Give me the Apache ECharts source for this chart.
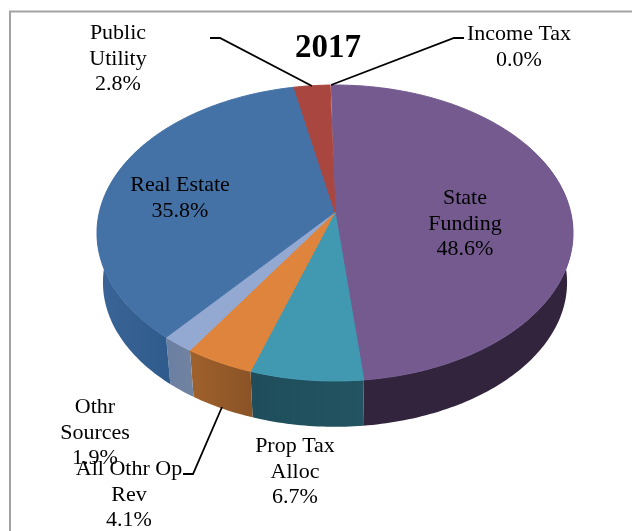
<!DOCTYPE html>
<html>
<head>
<meta charset="utf-8">
<style>html,body{margin:0;padding:0;background:#fff}#chart{width:632px;height:531px}</style>
<script src="https://cdn.jsdelivr.net/npm/echarts@6/dist/echarts.min.js"></script>
</head>
<body>
<div id="chart"></div>
<script>
// Revenue shares for 2017, clockwise from the top of the disc
const categories = ['State\nFunding', 'Prop Tax\nAlloc', 'All Othr Op\nRev', 'Othr\nSources', 'Real Estate', 'Public\nUtility', 'Income Tax'];
const shares = [48.6, 6.7, 4.1, 1.9, 35.8, 2.8, 0.0];
const faceColors = ['#745a8f', '#4198b1', '#de843c', '#93a9d2', '#4572a6', '#a9463f', '#8fa84a'];
const wallColors = [['#33243d', '#33243d'], ['#1f4d5b', '#235461'], ['#a0612c', '#8a5326'], ['#6b7fa3', '#71839f'], ['#3b6597', '#2f5a8c'], ['#7c322e', '#7c322e'], ['#66783a', '#66783a']];
const chartTitle = '2017';

// Disc projection: a tilted circle seen in perspective
const disc = { cx: 335, apexY: 212, rx: 235.6, ry: 145, persp: 0.142, startDeg: -1 };
const base = { scale: 0.975, apexY: 262 };
// Only the front part of the rim can be seen, the rest lies behind the top face
const rimRange = [60, 300];

// Label block centres and leader lines, in the same order as the categories
const labelCentres = [[465, 224], [295, 472], [129, 495], [95, 433], [180, 198], [118, 59], [519, 47]];
const leaders = [
  [[210, 38], [220, 38], [312, 86]],
  [[464, 38], [454, 38], [331, 85]],
  [[183, 474], [193, 474], [222, 407]]
];

function project(deg, scale, apexY) {
  const a = deg * Math.PI / 180;
  const u = Math.sin(a), v = Math.cos(a);
  const d = 1 + disc.persp * v;
  return [disc.cx + scale * disc.rx * u / d, apexY - scale * disc.ry * v / d];
}

// Angular extent of each slice, accumulated from the shares
const total = 100;
const spans = [];
shares.reduce((acc, s) => {
  const next = acc + s;
  spans.push([disc.startDeg + acc / total * 360, disc.startDeg + next / total * 360]);
  return next;
}, 0);

function arc(from, to, scale, apexY) {
  const pts = [];
  const n = Math.max(1, Math.ceil(to - from));
  for (let i = 0; i <= n; i++) pts.push(project(from + (to - from) * i / n, scale, apexY));
  return pts;
}

function renderWall(params) {
  const from = Math.max(spans[params.dataIndex][0], rimRange[0]);
  const to = Math.min(spans[params.dataIndex][1], rimRange[1]);
  if (to - from <= 0) return { type: 'group' };
  const pts = arc(from, to, 1, disc.apexY).concat(arc(from, to, base.scale, base.apexY).reverse());
  const c = wallColors[params.dataIndex];
  return {
    type: 'polygon',
    shape: { points: pts },
    style: {
      fill: new echarts.graphic.LinearGradient(0, 0, 1, 0, [{ offset: 0, color: c[0] }, { offset: 1, color: c[1] }]),
      stroke: null
    }
  };
}

function renderFace(params) {
  const [from, to] = spans[params.dataIndex];
  if (to - from <= 0) return { type: 'group' };
  const pts = [[disc.cx, disc.apexY]].concat(arc(from, to, 1, disc.apexY));
  return {
    type: 'polygon',
    shape: { points: pts },
    style: { fill: faceColors[params.dataIndex], stroke: faceColors[params.dataIndex], lineWidth: 1 }
  };
}

const serif = '"Liberation Serif", serif';
const labelElements = categories.map((name, i) => ({
  type: 'text',
  x: labelCentres[i][0],
  y: labelCentres[i][1],
  z: 20,
  style: {
    text: name + '\n' + shares[i].toFixed(1) + '%',
    font: '22px ' + serif,
    lineHeight: 25.5,
    fill: '#000',
    align: 'center',
    verticalAlign: 'middle'
  }
}));
const leaderElements = leaders.map(points => ({
  type: 'polyline',
  z: 15,
  shape: { points },
  style: { stroke: '#000', lineWidth: 1.8, fill: null }
}));

const chart = echarts.init(document.getElementById('chart'), null, { renderer: 'canvas' });
chart.setOption({
  animation: false,
  backgroundColor: '#fff',
  title: {
    text: chartTitle,
    left: 323,
    top: 27,
    textAlign: 'center',
    textStyle: { fontFamily: serif, fontSize: 33, fontWeight: 'bold', color: '#000' }
  },
  graphic: [
    { type: 'polyline', z: 1, shape: { points: [[10, 531], [10, 11.5], [632, 11.5]] }, style: { stroke: '#a3a3a3', lineWidth: 2, fill: null } }
  ].concat(leaderElements, labelElements),
  series: [
    { type: 'custom', coordinateSystem: 'none', z: 5, renderItem: renderWall, data: shares, silent: true },
    { type: 'custom', coordinateSystem: 'none', z: 6, renderItem: renderFace, data: shares, silent: true }
  ]
});
</script>
</body>
</html>
